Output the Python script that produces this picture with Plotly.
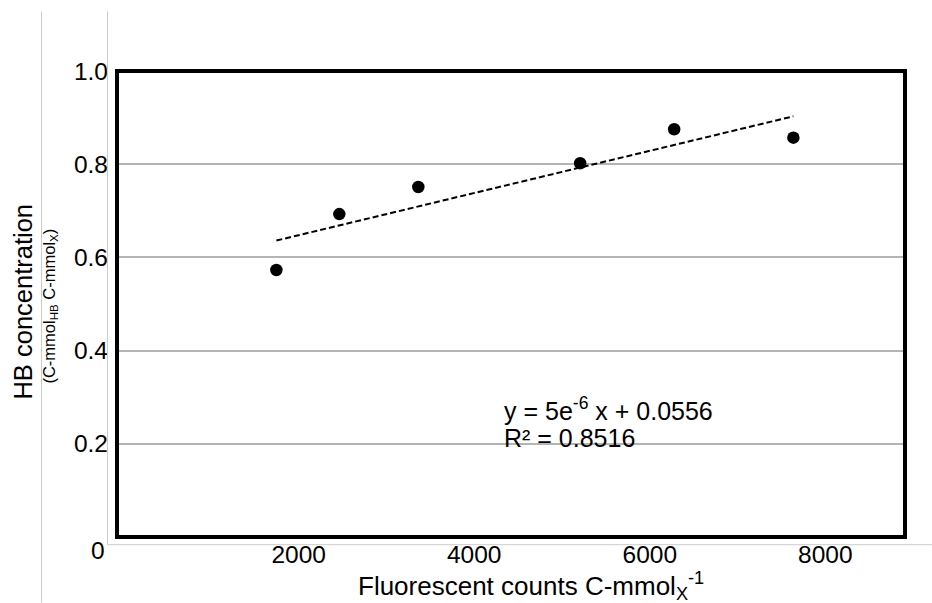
import numpy as np
import plotly.graph_objects as go

# ---- data ----
fluor_counts = [1746, 2463, 3363, 5207, 6278, 7636]
hb_conc = [0.573, 0.693, 0.751, 0.802, 0.875, 0.857]
x_ticks = [2000, 4000, 6000, 8000]
x_tick_labels = ["2000", "4000", "6000", "8000"]
y_ticks = [0.2, 0.4, 0.6, 0.8, 1.0]
y_tick_labels = ["0.2", "0.4", "0.6", "0.8", "1.0"]
eq_line1 = "y = 5e<sup>-6</sup> x + 0.0556"
eq_line2 = "R² = 0.8516"
x_title = "Fluorescent counts C-mmol<sub>X</sub><sup>-1</sup>"
y_title = "HB concentration"
y_subtitle = "(C-mmol<sub>HB</sub> C-mmol<sub>X</sub>)"

# linear trend from the data
slope, intercept = np.polyfit(fluor_counts, hb_conc, 1)
trend_x = [min(fluor_counts), max(fluor_counts)]
trend_y = [slope * v + intercept for v in trend_x]

W, H = 932, 603
L, R, T, B = 116.5, 905.0, 70.7, 537.3
FONT = "Liberation Sans, Arial, sans-serif"


def px(xp):
    return (xp - L) / (R - L)


def py(yp):
    return (B - yp) / (B - T)


fig = go.Figure()
fig.add_trace(go.Scatter(x=trend_x, y=trend_y, mode="lines",
                         line=dict(color="black", width=2, dash="6px,3px"),
                         hoverinfo="skip"))
fig.add_trace(go.Scatter(x=fluor_counts, y=hb_conc, mode="markers",
                         marker=dict(color="black", size=12.5)))

fig.update_layout(
    width=W, height=H,
    margin=dict(l=L, r=W - R, t=T, b=H - B, pad=0),
    paper_bgcolor="white", plot_bgcolor="white",
    showlegend=False,
    font=dict(family=FONT, color="black"),
    xaxis=dict(range=[-70, 8908], tickvals=x_ticks, ticktext=x_tick_labels,
               showgrid=False, zeroline=False, showline=False, ticks="",
               tickfont=dict(size=24.5, family=FONT, color="black"),
               ticklabelstandoff=0),
    yaxis=dict(range=[0, 1], tickvals=y_ticks, ticktext=y_tick_labels,
               showgrid=True, gridcolor="#b4b4b4", gridwidth=1.5,
               zeroline=False, showline=False, ticks="",
               tickfont=dict(size=24.5, family=FONT, color="black"),
               ticklabelstandoff=8),
)

shapes = [
    # outer light frame lines
    dict(type="line", xref="paper", yref="paper", x0=px(41), x1=px(41),
         y0=py(11), y1=py(603), line=dict(color="#cccccc", width=1)),
    dict(type="line", xref="paper", yref="paper", x0=px(107), x1=px(107),
         y0=py(11), y1=py(545), line=dict(color="#cccccc", width=1)),
    dict(type="line", xref="paper", yref="paper", x0=px(107), x1=px(932),
         y0=py(545), y1=py(545), line=dict(color="#cccccc", width=1)),
    # thick black plot frame
    dict(type="rect", xref="paper", yref="paper", x0=0, x1=1, y0=0, y1=1,
         line=dict(color="black", width=4), layer="above"),
]
fig.update_layout(shapes=shapes)

annotations = [
    dict(text="0", x=px(106), y=py(551), xref="paper", yref="paper",
         xanchor="right", yanchor="middle", showarrow=False,
         font=dict(size=24.5, family=FONT, color="black")),
    dict(text=eq_line1, x=px(502), y=py(409), xref="paper", yref="paper",
         xanchor="left", yanchor="middle", showarrow=False,
         font=dict(size=25, family=FONT, color="black")),
    dict(text=eq_line2, x=px(502), y=py(438), xref="paper", yref="paper",
         xanchor="left", yanchor="middle", showarrow=False,
         font=dict(size=25, family=FONT, color="black")),
    dict(text=x_title, x=px(531), y=py(586), xref="paper", yref="paper",
         xanchor="center", yanchor="middle", showarrow=False,
         font=dict(size=26, family=FONT, color="black")),
    dict(text=y_title, x=px(22), y=py(302), xref="paper", yref="paper",
         xanchor="center", yanchor="middle", textangle=-90, showarrow=False,
         font=dict(size=25.5, family=FONT, color="black")),
    dict(text=y_subtitle, x=px(49), y=py(306), xref="paper", yref="paper",
         xanchor="center", yanchor="middle", textangle=-90, showarrow=False,
         font=dict(size=16.5, family=FONT, color="black")),
]
fig.update_layout(annotations=annotations)

fig.write_html("out.html")
